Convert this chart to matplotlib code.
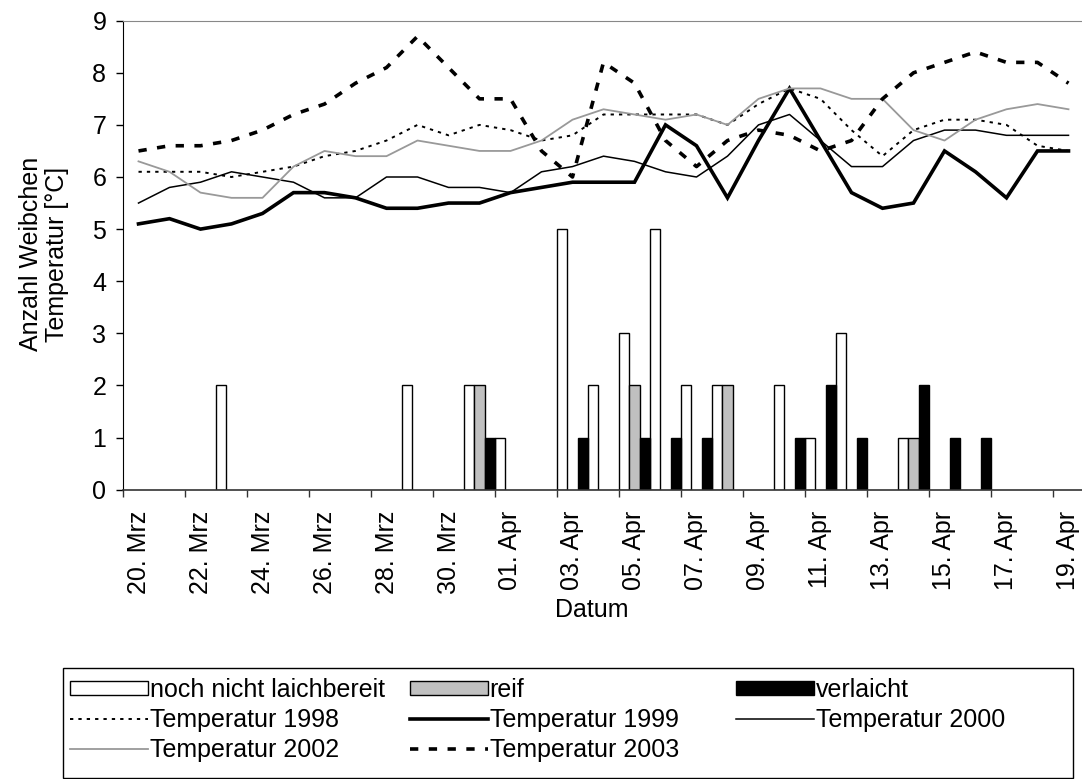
import matplotlib
matplotlib.use("Agg")
import matplotlib.pyplot as plt
import numpy as np
from matplotlib.lines import Line2D
from matplotlib.patches import Patch, Rectangle

plt.rcParams["font.family"] = ["Liberation Sans", "DejaVu Sans"]
plt.rcParams["font.size"] = 18

W, H = 1082, 779

days = [
    "20. Mrz", "21. Mrz", "22. Mrz", "23. Mrz", "24. Mrz", "25. Mrz", "26. Mrz",
    "27. Mrz", "28. Mrz", "29. Mrz", "30. Mrz", "31. Mrz", "01. Apr", "02. Apr",
    "03. Apr", "04. Apr", "05. Apr", "06. Apr", "07. Apr", "08. Apr", "09. Apr",
    "10. Apr", "11. Apr", "12. Apr", "13. Apr", "14. Apr", "15. Apr", "16. Apr",
    "17. Apr", "18. Apr", "19. Apr",
]

# Anzahl Weibchen je Tag
unreif = [0, 0, 0, 2, 0, 0, 0, 0, 0, 2, 0, 2, 1, 0, 5, 2, 3, 5, 2, 2, 0, 2, 1, 3, 0, 1, 0, 0, 0, 0, 0]
reif = [0, 0, 0, 0, 0, 0, 0, 0, 0, 0, 0, 2, 0, 0, 0, 0, 2, 0, 0, 2, 0, 0, 0, 0, 0, 1, 0, 0, 0, 0, 0]
verlaicht = [0, 0, 0, 0, 0, 0, 0, 0, 0, 0, 0, 1, 0, 0, 1, 0, 1, 1, 1, 0, 0, 1, 2, 1, 0, 2, 1, 1, 0, 0, 0]

# Wassertemperatur [°C]
t1998 = [6.1, 6.1, 6.1, 6.0, 6.1, 6.2, 6.4, 6.5, 6.7, 7.0, 6.8, 7.0, 6.9, 6.7, 6.8, 7.2,
         7.2, 7.2, 7.2, 7.0, 7.4, 7.7, 7.5, 6.9, 6.4, 6.9, 7.1, 7.1, 7.0, 6.6, 6.5]
t1999 = [5.1, 5.2, 5.0, 5.1, 5.3, 5.7, 5.7, 5.6, 5.4, 5.4, 5.5, 5.5, 5.7, 5.8, 5.9, 5.9,
         5.9, 7.0, 6.6, 5.6, 6.7, 7.7, 6.7, 5.7, 5.4, 5.5, 6.5, 6.1, 5.6, 6.5, 6.5]
t2000 = [5.5, 5.8, 5.9, 6.1, 6.0, 5.9, 5.6, 5.6, 6.0, 6.0, 5.8, 5.8, 5.7, 6.1, 6.2, 6.4,
         6.3, 6.1, 6.0, 6.4, 7.0, 7.2, 6.7, 6.2, 6.2, 6.7, 6.9, 6.9, 6.8, 6.8, 6.8]
t2002 = [6.3, 6.1, 5.7, 5.6, 5.6, 6.2, 6.5, 6.4, 6.4, 6.7, 6.6, 6.5, 6.5, 6.7, 7.1, 7.3,
         7.2, 7.1, 7.2, 7.0, 7.5, 7.7, 7.7, 7.5, 7.5, 6.9, 6.7, 7.1, 7.3, 7.4, 7.3]
t2003 = [6.5, 6.6, 6.6, 6.7, 6.9, 7.2, 7.4, 7.8, 8.1, 8.7, 8.1, 7.5, 7.5, 6.5, 6.0, 8.2,
         7.8, 6.7, 6.2, 6.7, 6.9, 6.8, 6.5, 6.7, 7.5, 8.0, 8.2, 8.4, 8.2, 8.2, 7.8]

GRAY_BAR = "#c0c0c0"
GRAY_LINE = "#999999"
DOTTED = (0, (1.7, 2.6))
DASHED = (0, (2.3, 2.9))

fig = plt.figure(figsize=(W / 100, H / 100), dpi=100)
ax = fig.add_axes([123 / W, 1 - 489.6 / H, 961 / W, 468.9 / H])

x = np.arange(len(days))
bw = 1 / 3
for k, (vals, fc) in enumerate([(unreif, "white"), (reif, GRAY_BAR), (verlaicht, "black")]):
    vals = np.asarray(vals)
    keep = vals > 0
    ax.bar(x[keep] + k * bw, vals[keep], width=bw, align="edge",
           facecolor=fc, edgecolor="black", linewidth=1.0, zorder=2)

xc = x + 0.5
ax.plot(xc, t1998, color="black", lw=1.4, linestyle=DOTTED, zorder=3)
ax.plot(xc, t1999, color="black", lw=2.6, solid_joinstyle="miter", zorder=3)
ax.plot(xc, t2000, color="black", lw=1.1, zorder=3)
ax.plot(xc, t2002, color=GRAY_LINE, lw=1.3, zorder=3)
ax.plot(xc, t2003, color="black", lw=2.6, linestyle=DASHED, zorder=3)

ax.set_xlim(0, len(days))
ax.set_ylim(0, 9)
ax.set_yticks(range(10))
ax.set_xticks(x[::2] + 0.5)
ax.set_xticklabels(days[::2], rotation=90)
ax.set_xticks(x[::2], minor=True)
ax.tick_params(axis="x", which="major", length=0, pad=15)
ax.tick_params(axis="x", which="minor", length=5, width=1, direction="out", color="#333333")
ax.tick_params(axis="y", length=5, width=1, direction="out", pad=7)

for side in ["top", "right"]:
    ax.spines[side].set_color("#888888")
ax.spines["left"].set_color("black")
ax.spines["bottom"].set_color("#333333")
ax.spines["bottom"].set_linewidth(1.2)

fig.text(31 / W, 1 - 254 / H, "Anzahl Weibchen", rotation=90, ha="center", va="center")
fig.text(57 / W, 1 - 254 / H, "Temperatur [°C]", rotation=90, ha="center", va="center")
fig.text(592 / W, 1 - 610 / H, "Datum", ha="center", va="center")

# Legendenrahmen
fig.patches.append(Rectangle((63 / W, 1 / H), (1073 - 63) / W, (778 - 668) / H,
                             transform=fig.transFigure, fill=False, edgecolor="black",
                             linewidth=1.0))

columns = [
    (70, [Patch(facecolor="white", edgecolor="black"),
          Line2D([], [], color="black", lw=1.4, linestyle=DOTTED),
          Line2D([], [], color=GRAY_LINE, lw=1.3)],
     ["noch nicht laichbereit", "Temperatur 1998", "Temperatur 2002"]),
    (410, [Patch(facecolor=GRAY_BAR, edgecolor="black"),
           Line2D([], [], color="black", lw=2.6),
           Line2D([], [], color="black", lw=2.6, linestyle=DASHED)],
     ["reif", "Temperatur 1999", "Temperatur 2003"]),
    (736, [Patch(facecolor="black", edgecolor="black"),
           Line2D([], [], color="black", lw=1.1)],
     ["verlaicht", "Temperatur 2000"]),
]
for x0, handles, labels in columns:
    fig.legend(handles, labels, loc="upper left", bbox_to_anchor=(x0 / W, 1 - 678 / H),
               frameon=False, borderpad=0, borderaxespad=0, handlelength=3.1,
               handleheight=0.52, handletextpad=0.08, labelspacing=0.25)

fig.savefig("out.png", dpi=100)
